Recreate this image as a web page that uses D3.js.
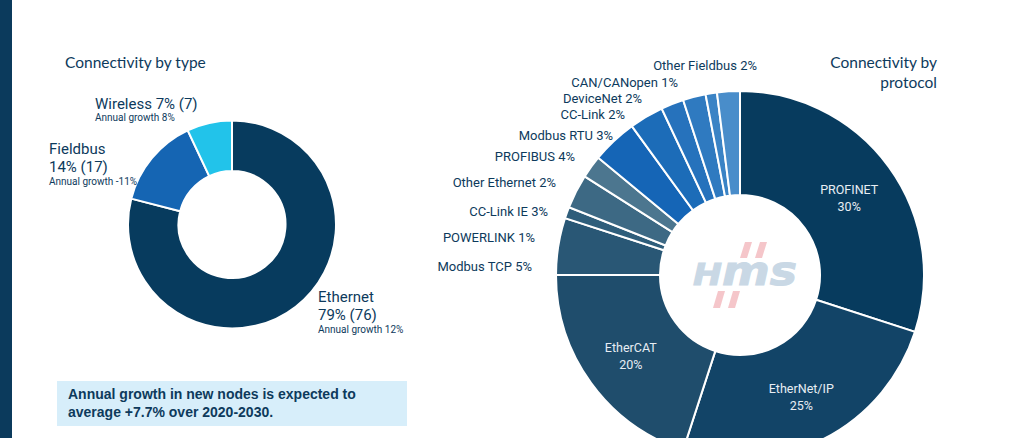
<!DOCTYPE html>
<html><head><meta charset="utf-8">
<script src="https://cdn.jsdelivr.net/npm/d3@7"></script>
<style>
html,body{margin:0;padding:0;background:#fff;}
svg{display:block;}
</style></head>
<body>
<svg id="chart" width="1030" height="438"></svg>
<script>
// ---- Data ----
const typeCategories = ["Ethernet", "Fieldbus", "Wireless"];
const typeShares = [79, 14, 7];
const typeCounts = [76, 17, 7];
const typeGrowth = ["12%", "-11%", "8%"];

const protocolNames = ["PROFINET", "EtherNet/IP", "EtherCAT", "Modbus TCP", "POWERLINK", "CC-Link IE",
  "Other Ethernet", "PROFIBUS", "Modbus RTU", "CC-Link", "DeviceNet", "CAN/CANopen", "Other Fieldbus"];
const protocolShares = [30, 25, 20, 5, 1, 3, 2, 4, 3, 2, 2, 1, 2];

const noteLines = ["Annual growth in new nodes is expected to", "average +7.7% over 2020-2030."];

// ---- Styles / layout ----
const typeColors = ["#073b5e", "#1565b3", "#22c3ea"];
const protoColors = ["#073b5e", "#124467", "#1f4d6c", "#295775", "#2f5e7b", "#3d6984", "#4c768f",
  "#1565b6", "#1c6cb8", "#2672bc", "#2f7ac0", "#3a83c5", "#498dca"];
const navy = "#0d3a5c";
const labelFont = "Roboto, 'DejaVu Sans', sans-serif";
const titleFont = "Lato, 'Open Sans', sans-serif";

// outer label anchors for the small protocol slices (text-anchor end), in slice order from index 3
const outerLabelAnchors = [[532, 271], [535, 242], [548, 216], [556, 187], [575, 161],
  [613, 140], [625, 119], [642, 103], [678, 87], [757, 70]];

const svg = d3.select("#chart");

// left accent bar
svg.append("rect").attr("x", 0).attr("y", 0).attr("width", 12).attr("height", 438).attr("fill", "#0b3a5c");

// ---- Left donut ----
const L = {cx: 232, cy: 224.5, r0: 53.5, r1: 104};
const pieL = d3.pie().sort(null).value(d => d)(typeShares);
const arcL = d3.arc().innerRadius(L.r0).outerRadius(L.r1);
const gL = svg.append("g").attr("transform", `translate(${L.cx},${L.cy})`);
gL.selectAll("path").data(pieL).join("path")
  .attr("d", arcL)
  .attr("fill", (d, i) => typeColors[i])
  .attr("stroke", "#fff").attr("stroke-width", 2);

svg.append("text").attr("x", 65).attr("y", 68).text("Connectivity by type")
  .attr("font-family", titleFont).attr("font-size", 15.5).attr("fill", navy);

function typeLabel(lines, x, y0, gaps) {
  let y = y0;
  lines.forEach((ln, k) => {
    if (k > 0) y += gaps[k - 1];
    svg.append("text").attr("x", x).attr("y", y).text(ln.t)
      .attr("font-family", labelFont).attr("font-size", ln.s).attr("fill", navy);
  });
}
// Wireless
typeLabel([{t: `${typeCategories[2]} ${typeShares[2]}% (${typeCounts[2]})`, s: 15},
           {t: `Annual growth ${typeGrowth[2]}`, s: 10}], 95, 109, [12]);
// Fieldbus
typeLabel([{t: typeCategories[1], s: 15}, {t: `${typeShares[1]}% (${typeCounts[1]})`, s: 15},
           {t: `Annual growth ${typeGrowth[1]}`, s: 10}], 49, 154, [18, 13]);
// Ethernet
typeLabel([{t: typeCategories[0], s: 15}, {t: `${typeShares[0]}% (${typeCounts[0]})`, s: 15},
           {t: `Annual growth ${typeGrowth[0]}`, s: 10}], 318, 302, [18, 13]);

// note box
svg.append("rect").attr("x", 57).attr("y", 381).attr("width", 350).attr("height", 45).attr("fill", "#d7eefa");
noteLines.forEach((t, i) => {
  svg.append("text").attr("x", 68).attr("y", 399 + i * 18).text(t)
    .attr("font-family", "'Liberation Sans', Arial, sans-serif").attr("font-weight", "bold")
    .attr("font-size", 14).attr("fill", navy);
});

// ---- Right donut ----
const R = {cx: 740, cy: 275, r0: 80, r1: 184};
const pieR = d3.pie().sort(null).value(d => d)(protocolShares);
const arcR = d3.arc().innerRadius(R.r0).outerRadius(R.r1);
const gR = svg.append("g").attr("transform", `translate(${R.cx},${R.cy})`);
gR.selectAll("path").data(pieR).join("path")
  .attr("d", arcR)
  .attr("fill", (d, i) => protoColors[i])
  .attr("stroke", "#fff").attr("stroke-width", 2);

// inner labels for the three big slices
const arcLab = d3.arc().innerRadius(135).outerRadius(135);
pieR.slice(0, 3).forEach((d, i) => {
  const [x, y] = arcLab.centroid(d);
  const t = gR.append("text").attr("text-anchor", "middle")
    .attr("font-family", labelFont).attr("font-size", 12.5).attr("fill", "#e8eef4");
  t.append("tspan").attr("x", x).attr("y", y - 2).text(protocolNames[i]);
  t.append("tspan").attr("x", x).attr("y", y + 15).text(protocolShares[i] + "%");
});

// outer labels for the small slices
protocolNames.slice(3).forEach((n, k) => {
  const [x, y] = outerLabelAnchors[k];
  svg.append("text").attr("x", x).attr("y", y).attr("text-anchor", "end")
    .text(`${n} ${protocolShares[k + 3]}%`)
    .attr("font-family", labelFont).attr("font-size", 13).attr("fill", navy);
});

// right title
["Connectivity by", "protocol"].forEach((t, i) => {
  svg.append("text").attr("x", 937).attr("y", 68 + i * 20).attr("text-anchor", "end").text(t)
    .attr("font-family", titleFont).attr("font-size", 15.5).attr("fill", navy);
});

// HMS watermark logo
const logo = svg.append("g");
function bar(x0, yt, yb) {
  const w = 7, s = 5;
  return `M${x0 + s},${yt}L${x0 + s + w},${yt}L${x0 + w},${yb}L${x0},${yb}Z`;
}
[[740, 242, 258], [755, 242, 258], [713, 291, 308], [728, 291, 308]].forEach(b => {
  logo.append("path").attr("d", bar(b[0], b[1], b[2])).attr("fill", "#f5c6ca");
});
const lt = logo.append("text").attr("x", 745).attr("y", 285).attr("text-anchor", "middle")
  .attr("font-family", "'DejaVu Sans', sans-serif").attr("font-weight", "bold").attr("font-style", "italic")
  .attr("textLength", 104).attr("lengthAdjust", "spacingAndGlyphs")
  .attr("fill", "#c9d8e5").attr("stroke", "#c9d8e5").attr("stroke-width", 1);
lt.append("tspan").attr("font-size", 31).text("H");
lt.append("tspan").attr("font-size", 41).text("ms");
</script>
</body></html>
